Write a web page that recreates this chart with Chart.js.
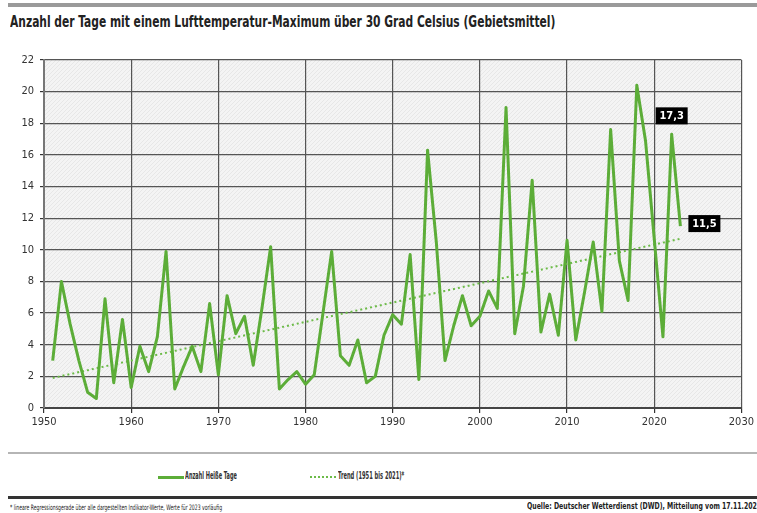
<!DOCTYPE html>
<html>
<head>
<meta charset="utf-8">
<script src="https://cdn.jsdelivr.net/npm/chart.js@4"></script>
<style>
    body { margin: 0; background: #fff; width: 757px; height: 513px; overflow: hidden; position: relative; font-family: "DejaVu Sans Condensed", "DejaVu Sans", sans-serif; }
    .topline { position: absolute; left: 8px; right: 0; top: 3px; height: 4px; background: #9a9a9a; }
    .fit { position: absolute; white-space: nowrap; transform-origin: 0 0; color: #222; }
    .title { left: 10px; top: 13px; font-size: 15px; font-weight: bold; }
    .chart-box { position: absolute; left: 0; top: 0; width: 757px; height: 440px; }
    .sep { position: absolute; left: 8px; right: 0; top: 452px; height: 2px; background: #b5b5b5; }
    .legend-mark { position: absolute; width: 26px; height: 0; }
    .legend { top: 469px; font-size: 10.5px; font-weight: bold; color: #333; }
    .bottomline { position: absolute; left: 8px; right: 0; top: 496px; height: 3px; background: #333; }
    .note { left: 10px; top: 503px; font-size: 7.5px; }
    .source { left: 527px; top: 502px; font-size: 8px; font-weight: bold; }
</style>
</head>
<body>
<div class="topline"></div>
<div class="fit title" data-w="545">Anzahl der Tage mit einem Lufttemperatur-Maximum über 30 Grad Celsius (Gebietsmittel)</div>
<div class="chart-box"><canvas id="hotDays"></canvas></div>
<div class="sep"></div>
<div class="legend-mark" style="left:158px; top:476px; border-top:3px solid #5cad38"></div>
<div class="fit legend" style="left:185px" data-w="52">Anzahl Heiße Tage</div>
<div class="legend-mark" style="left:310px; top:476px; border-top:2px dotted #6cbb48"></div>
<div class="fit legend" style="left:338px" data-w="66">Trend (1951 bis 2021)*</div>
<div class="bottomline"></div>
<div class="fit note" data-w="212">* lineare Regressionsgerade über alle dargestellten Indikator-Werte, Werte für 2023 vorläufig</div>
<div class="fit source" data-w="234">Quelle: Deutscher Wetterdienst (DWD), Mitteilung vom 17.11.2023</div>

<script>
// squeeze the texts to the narrow widths of the original font
document.querySelectorAll(".fit").forEach(el => {
    const target = Number(el.dataset.w);
    el.style.transform = `scaleX(${target / el.offsetWidth})`;
});

// years 1951 - 2023
const years = Array.from({ length: 73 }, (_, i) => 1951 + i);
const hotDays = [
    3.0, 8.0, 5.3, 3.0, 1.0, 0.6, 6.9, 1.6, 5.6, 1.3,   // 1951-1960
    3.9, 2.3, 4.5, 9.9, 1.2, 2.6, 3.9, 2.3, 6.6, 2.1,   // 1961-1970
    7.1, 4.7, 5.8, 2.7, 6.3, 10.2, 1.2, 1.8, 2.3, 1.5,  // 1971-1980
    2.1, 6.0, 9.9, 3.3, 2.7, 4.3, 1.6, 2.0, 4.6, 5.9,   // 1981-1990
    5.3, 9.7, 1.8, 16.3, 10.5, 3.0, 5.2, 7.1, 5.2, 5.8, // 1991-2000
    7.4, 6.3, 19.0, 4.7, 7.7, 14.4, 4.8, 7.2, 4.6, 10.6, // 2001-2010
    4.3, 7.3, 10.5, 6.1, 17.6, 9.3, 6.8, 20.4, 16.9, 10.7, // 2011-2020
    4.5, 17.3, 11.5                                      // 2021-2023
];
const trendYears = [1951, 2023];
const trendValues = [1.9, 10.7];
const xTicks = [1950, 1960, 1970, 1980, 1990, 2000, 2010, 2020, 2030];
const labelYears = [2022, 2023];
const labelTexts = ["17,3", "11,5"];

const tickFont = { family: "'DejaVu Sans Condensed', 'DejaVu Sans', sans-serif", size: 11 };

// hatched plot background
const hatch = document.createElement("canvas");
hatch.width = 4;
hatch.height = 4;
const hctx = hatch.getContext("2d");
hctx.fillStyle = "#f4f4f4";
hctx.fillRect(0, 0, 4, 4);
hctx.strokeStyle = "#e7e7e7";
hctx.lineWidth = 1;
hctx.beginPath();
hctx.moveTo(0, 4); hctx.lineTo(4, 0);
hctx.moveTo(-1, 1); hctx.lineTo(1, -1);
hctx.moveTo(3, 5); hctx.lineTo(5, 3);
hctx.stroke();

const backgroundPlugin = {
    id: "hatchBg",
    beforeDraw(chart) {
        const { ctx, chartArea } = chart;
        ctx.save();
        ctx.fillStyle = ctx.createPattern(hatch, "repeat");
        ctx.fillRect(chartArea.left, chartArea.top, chartArea.right - chartArea.left, chartArea.bottom - chartArea.top);
        ctx.restore();
    }
};

// black value boxes
const valueBoxes = {
    id: "valueBoxes",
    afterDatasetsDraw(chart) {
        const { ctx, scales } = chart;
        const offsets = [[0, -18], [24, -2]];
        ctx.save();
        ctx.font = "bold 11px 'DejaVu Sans Condensed', sans-serif";
        ctx.textAlign = "center";
        ctx.textBaseline = "middle";
        labelYears.forEach((yr, i) => {
            const v = hotDays[years.indexOf(yr)];
            const cx = scales.x.getPixelForValue(yr) + offsets[i][0];
            const cy = scales.y.getPixelForValue(v) + offsets[i][1];
            ctx.fillStyle = "#000";
            ctx.fillRect(cx - 16, cy - 9, 32, 17);
            ctx.fillStyle = "#fff";
            ctx.fillText(labelTexts[i], cx, cy);
        });
        ctx.restore();
    }
};

const ctx = document.getElementById("hotDays").getContext("2d");
const chart = new Chart(ctx, {
    type: "line",
    data: {
        datasets: [
            {
                label: "Anzahl Heiße Tage",
                data: years.map((y, i) => ({ x: y, y: hotDays[i] })),
                borderColor: "#5cad38",
                borderWidth: 3,
                borderJoinStyle: "round",
                pointRadius: 0,
                tension: 0,
                fill: false,
            },
            {
                label: "Trend (1951 bis 2021)*",
                data: trendYears.map((y, i) => ({ x: y, y: trendValues[i] })),
                borderColor: "#6cbb48",
                borderWidth: 2,
                borderDash: [2, 3],
                pointRadius: 0,
                fill: false,
            },
        ],
    },
    options: {
        responsive: true,
        maintainAspectRatio: false,
        animation: false,
        layout: {
            padding: { top: 60, right: 14, left: 0, bottom: 0 },
        },
        plugins: {
            legend: { display: false },
            tooltip: { enabled: false },
        },
        scales: {
            x: {
                type: "linear",
                min: 1950,
                max: 2030,
                afterBuildTicks: (scale) => {
                    scale.ticks = xTicks.map(v => ({ value: v }));
                },
                afterFit: (scale) => { scale.height = 32; },
                ticks: {
                    color: "#333",
                    font: tickFont,
                    padding: 3,
                    maxRotation: 0,
                    callback: (v) => String(v),
                },
                grid: {
                    color: "#555",
                    lineWidth: 1.2,
                    tickLength: 5,
                    tickColor: "#333",
                },
                border: { color: "#444", width: 2 },
            },
            y: {
                min: 0,
                max: 22,
                afterFit: (scale) => { scale.width = 44; },
                ticks: {
                    stepSize: 2,
                    color: "#333",
                    font: tickFont,
                    padding: 6,
                },
                grid: {
                    color: "#555",
                    lineWidth: 1.2,
                    tickLength: 4,
                    tickColor: "#333",
                },
                border: { color: "#777", width: 2 },
            },
        },
    },
    plugins: [backgroundPlugin, valueBoxes],
});
</script>
</body>
</html>
